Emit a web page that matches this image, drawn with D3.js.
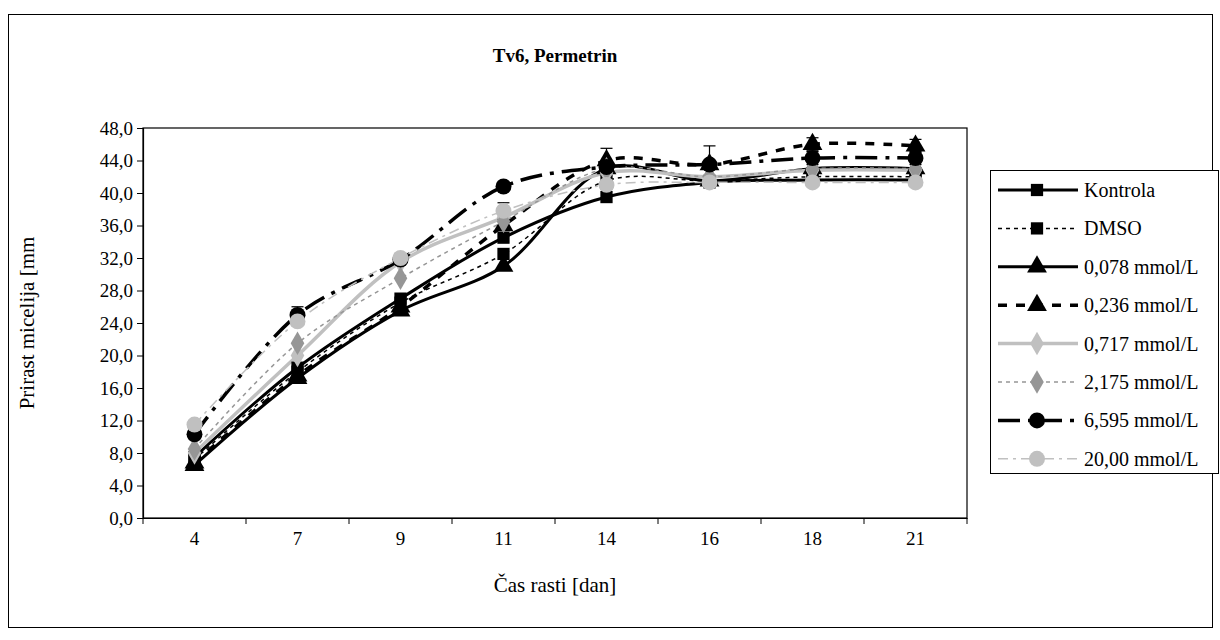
<!DOCTYPE html>
<html>
<head>
<meta charset="utf-8">
<script src="https://cdnjs.cloudflare.com/ajax/libs/d3/7.8.5/d3.min.js"></script>
<style>
  body { margin: 0; background: #fff; }
  svg text { font-family: "Liberation Serif", "Times New Roman", Times, serif !important; fill: #000; }
</style>
</head>
<body>
<div id="container"></div>
<script>
/* DATA */
const days = ["4", "7", "9", "11", "14", "16", "18", "21"];
const yTicks = [0, 4, 8, 12, 16, 20, 24, 28, 32, 36, 40, 44, 48];

const kontrola = [7.5, 18.5, 27.0, 34.5, 39.5, 41.3, 41.6, 41.6];
const dmso     = [7.2, 18.0, 26.5, 32.5, 41.5, 41.5, 42.0, 42.0];
const c0078    = [6.5, 17.2, 25.5, 31.0, 43.0, 41.5, 43.0, 43.0];
const c0236    = [6.8, 17.5, 26.0, 36.0, 44.0, 43.5, 46.0, 45.8];
const c0717    = [8.0, 20.0, 31.5, 37.0, 42.5, 42.0, 42.8, 42.8];
const c2175    = [8.5, 21.5, 29.5, 36.5, 43.0, 42.0, 43.0, 43.0];
const c6595    = [10.3, 25.0, 31.8, 40.8, 43.2, 43.5, 44.3, 44.3];
const c2000    = [11.5, 24.2, 32.0, 37.8, 41.0, 41.3, 41.3, 41.3];

// error bars (+/-), 0 = none shown
const err0236 = [0, 0, 0, 0, 0, 0, 0.8, 0.8];
const err6595 = [0.5, 1.0, 0.5, 0.5, 2.3, 2.3, 0.8, 0.8];
const err2000 = [0.5, 0.5, 0.5, 1.0, 0.5, 0.5, 0.3, 0.3];

const series = [
  {name: "Kontrola",     values: kontrola, color: "#000",    width: 3,   dash: null,        shape: "square",   err: null},
  {name: "DMSO",         values: dmso,     color: "#000",    width: 1.5, dash: "4,4",       shape: "square",   err: null},
  {name: "0,078 mmol/L", values: c0078,    color: "#000",    width: 3,   dash: null,        shape: "triangle", err: null},
  {name: "0,236 mmol/L", values: c0236,    color: "#000",    width: 3.5, dash: "9,9",       shape: "triangle", err: err0236},
  {name: "0,717 mmol/L", values: c0717,    color: "#c0c0c0", width: 3.5, dash: null,        shape: "diamond",  err: null},
  {name: "2,175 mmol/L", values: c2175,    color: "#969696", width: 1.5, dash: "4,4",       shape: "diamond",  err: null},
  {name: "6,595 mmol/L", values: c6595,    color: "#000",    width: 3.5, dash: "22,8,4,8",  shape: "circle",   err: err6595},
  {name: "20,00 mmol/L", values: c2000,    color: "#c0c0c0", width: 1.5, dash: "10,5,3,5",  shape: "circle",   err: err2000}
];

/* LAYOUT */
const width = 1220, height = 640;
const plot = {left: 143, right: 967, top: 128, bottom: 518};

const svg = d3.select("#container").append("svg")
  .attr("width", width)
  .attr("height", height);

// outer chart border
svg.append("rect")
  .attr("x", 8.5).attr("y", 14.5)
  .attr("width", 1204).attr("height", 613)
  .attr("fill", "#fff").attr("stroke", "#000").attr("stroke-width", 1);

/* SCALES */
const xScale = d3.scaleBand()
  .domain(days)
  .range([plot.left, plot.right]);

const yScale = d3.scaleLinear()
  .domain([0, 48])
  .range([plot.bottom, plot.top]);

const xMid = d => xScale(d) + xScale.bandwidth() / 2;

// plot area border
svg.append("rect")
  .attr("x", plot.left).attr("y", plot.top)
  .attr("width", plot.right - plot.left).attr("height", plot.bottom - plot.top)
  .attr("fill", "none").attr("stroke", "#000").attr("stroke-width", 1.2);

/* AXES */
const fmt = d => d3.format(".1f")(d).replace(".", ",");

const yAxis = d3.axisLeft(yScale).tickValues(yTicks).tickFormat(fmt).tickSize(6).tickPadding(4);
svg.append("g")
  .attr("transform", `translate(${plot.left},0)`)
  .call(yAxis)
  .call(g => g.select(".domain").attr("stroke-width", 1.2))
  .call(g => g.selectAll("text").style("font-size", "19px"));

const xAxis = d3.axisBottom(xScale).tickSize(0).tickPadding(14);
svg.append("g")
  .attr("transform", `translate(0,${plot.bottom})`)
  .call(xAxis)
  .call(g => g.select(".domain").attr("stroke-width", 1.2))
  .call(g => g.selectAll("text").style("font-size", "19px"));

// category ticks between categories
svg.append("g").selectAll("line")
  .data(days.concat(["end"]))
  .join("line")
  .attr("x1", (d, i) => plot.left + i * xScale.step())
  .attr("x2", (d, i) => plot.left + i * xScale.step())
  .attr("y1", plot.bottom)
  .attr("y2", plot.bottom + 6)
  .attr("stroke", "#000");

/* TITLES */
svg.append("text")
  .attr("x", (plot.left + plot.right) / 2).attr("y", 62)
  .attr("text-anchor", "middle")
  .style("font-size", "19px").style("font-weight", "bold")
  .text("Tv6, Permetrin");

svg.append("text")
  .attr("x", (plot.left + plot.right) / 2).attr("y", 592)
  .attr("text-anchor", "middle")
  .style("font-size", "21px")
  .text("Čas rasti [dan]");

svg.append("text")
  .attr("transform", `translate(34,${(plot.top + plot.bottom) / 2}) rotate(-90)`)
  .attr("text-anchor", "middle")
  .style("font-size", "21px")
  .text("Prirast micelija [mm");

/* MARKERS */
function markerPath(shape) {
  const map = {
    square: d3.symbol(d3.symbolSquare, 150),
    triangle: d3.symbol(d3.symbolTriangle, 170),
    diamond: d3.symbol(d3.symbolDiamond, 160),
    circle: d3.symbol(d3.symbolCircle, 200)
  };
  return map[shape]();
}

const lineGen = d3.line()
  .x(d => xMid(d.day))
  .y(d => yScale(d.value))
  .curve(d3.curveCatmullRom.alpha(0.5));

series.forEach(s => {
  const pts = s.values.map((v, i) => ({day: days[i], value: v, err: s.err ? s.err[i] : 0}));

  svg.append("path")
    .datum(pts)
    .attr("fill", "none")
    .attr("stroke", s.color)
    .attr("stroke-width", s.width)
    .attr("stroke-dasharray", s.dash)
    .attr("d", lineGen);

  // error bars
  const eb = svg.append("g").selectAll("g")
    .data(pts.filter(p => p.err > 0))
    .join("g");
  eb.append("line")
    .attr("x1", d => xMid(d.day)).attr("x2", d => xMid(d.day))
    .attr("y1", d => yScale(d.value - d.err)).attr("y2", d => yScale(d.value + d.err))
    .attr("stroke", "#000").attr("stroke-width", 1.2);
  eb.selectAll(".cap")
    .data(d => [d.value - d.err, d.value + d.err].map(v => ({day: d.day, v: v})))
    .join("line")
    .attr("class", "cap")
    .attr("x1", d => xMid(d.day) - 6).attr("x2", d => xMid(d.day) + 6)
    .attr("y1", d => yScale(d.v)).attr("y2", d => yScale(d.v))
    .attr("stroke", "#000").attr("stroke-width", 1.2);
});

series.forEach(s => {
  svg.append("g").selectAll("path")
    .data(s.values)
    .join("path")
    .attr("transform", (d, i) => `translate(${xMid(days[i])},${yScale(d)})`)
    .attr("d", markerPath(s.shape))
    .attr("fill", s.color);
});

/* LEGEND */
const legend = {x: 990, y: 170, w: 228, h: 303, step: 38.4};
svg.append("rect")
  .attr("x", legend.x + 0.5).attr("y", legend.y + 0.5)
  .attr("width", legend.w).attr("height", legend.h)
  .attr("fill", "#fff").attr("stroke", "#000").attr("stroke-width", 1);

const items = svg.append("g").selectAll("g")
  .data(series)
  .join("g")
  .attr("transform", (d, i) => `translate(${legend.x},${legend.y + 20 + i * legend.step})`);

items.append("line")
  .attr("x1", 8).attr("x2", 88)
  .attr("stroke", d => d.color)
  .attr("stroke-width", d => d.width)
  .attr("stroke-dasharray", d => d.dash);

items.append("path")
  .attr("transform", "translate(47,0)")
  .attr("d", d => markerPath(d.shape))
  .attr("fill", d => d.color);

items.append("text")
  .attr("x", 94).attr("y", 7)
  .style("font-size", "20px")
  .text(d => d.name);
</script>
</body>
</html>
